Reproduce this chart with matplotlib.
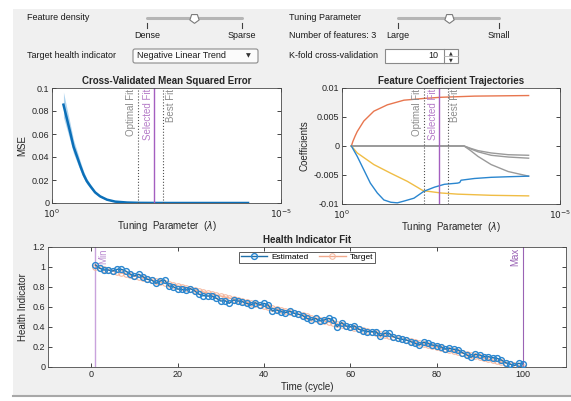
import numpy as np
import matplotlib
matplotlib.use('Agg')
import matplotlib.pyplot as plt
from matplotlib.patches import Rectangle, FancyBboxPatch

plt.rcParams['font.family'] = ['Liberation Sans', 'DejaVu Sans']

# ---- data ----
# cross-validated MSE vs tuning parameter (x given as -log10(lambda))
mse_loglam = [0.25, 0.33, 0.40, 0.47, 0.55, 0.62, 0.69, 0.76, 0.84, 0.94,
              1.05, 1.20, 1.38, 1.64, 1.93, 2.5, 3.0, 3.5, 4.0, 4.28]
mse = [0.0855, 0.0725, 0.061, 0.049, 0.040, 0.032, 0.0246, 0.019, 0.0145, 0.0093,
       0.0058, 0.0029, 0.0012, 0.0004, 0.0001, 0, 0, 0, 0, 0]
mse_err = [0.011, 0.009, 0.0075, 0.006, 0.005, 0.004, 0.003, 0.0024, 0.0018, 0.0012,
           0.0008, 0.0004, 0.0002, 0.0001, 0, 0, 0, 0, 0, 0]

# coefficient trajectories
orange_loglam = [0.215, 0.25, 0.30, 0.35, 0.5, 0.73, 1.04, 1.42, 1.88, 2.27, 3.04, 4.28]
orange_coef = [0, 0.0008, 0.0017, 0.0025, 0.0043, 0.006, 0.0071, 0.0079, 0.0082, 0.0084, 0.0086, 0.0087]
yellow_loglam = [0.215, 0.35, 0.73, 1.12, 1.5, 1.86, 2.27, 2.65, 3.42, 4.28]
yellow_coef = [0, -0.0012, -0.0032, -0.0047, -0.0061, -0.0077, -0.0081, -0.0083, -0.0085, -0.0086]
blue_loglam = [0.215, 0.35, 0.5, 0.65, 0.81, 0.96, 1.12, 1.27, 1.42, 1.65, 1.88, 2.12,
               2.35, 2.65, 2.70, 2.73, 3.04, 3.42, 3.81, 4.28]
blue_coef = [0, -0.0018, -0.0041, -0.0064, -0.0081, -0.0093, -0.0097, -0.0098, -0.0095, -0.009,
             -0.0078, -0.0071, -0.0066, -0.0064, -0.0063, -0.0059, -0.0056, -0.0054, -0.0053, -0.0052]
gray_loglam = [0.215, 2.8, 2.95, 3.12, 3.42, 3.81, 4.28]
gray_coefs = [
    [0, 0, -0.0004, -0.0008, -0.0012, -0.0015, -0.0016],
    [0, 0, -0.0005, -0.0010, -0.0016, -0.0019, -0.0021],
    [0, 0, -0.0008, -0.0018, -0.0032, -0.0044, -0.0052],
]
fit_names = ['Optimal Fit', 'Selected Fit', 'Best Fit']
fit_loglam = [1.87, 2.23, 2.43]

# health indicator fit
cycles = list(range(1, 101))
estimated = [1.02, 0.987, 0.97, 0.97, 0.96, 0.977, 0.977, 0.96, 0.93, 0.91,
             0.927, 0.903, 0.877, 0.87, 0.837, 0.86, 0.87, 0.81, 0.803, 0.78,
             0.777, 0.77, 0.783, 0.76, 0.727, 0.713, 0.71, 0.71, 0.687, 0.66,
             0.663, 0.637, 0.67, 0.66, 0.653, 0.637, 0.62, 0.643, 0.62, 0.637,
             0.62, 0.56, 0.57, 0.553, 0.543, 0.56, 0.537, 0.527, 0.513, 0.487,
             0.47, 0.487, 0.46, 0.47, 0.487, 0.47, 0.403, 0.443, 0.41, 0.403,
             0.41, 0.377, 0.363, 0.353, 0.353, 0.353, 0.31, 0.337, 0.337, 0.303,
             0.287, 0.277, 0.27, 0.253, 0.237, 0.22, 0.247, 0.237, 0.22, 0.213,
             0.203, 0.18, 0.187, 0.177, 0.17, 0.143, 0.12, 0.097, 0.127, 0.12,
             0.103, 0.103, 0.093, 0.087, 0.07, 0.043, 0.03, 0.013, 0.037, 0.03]
target = [1.00, 0.99, 0.98, 0.97, 0.96, 0.95, 0.94, 0.93, 0.92, 0.91,
          0.90, 0.89, 0.88, 0.87, 0.86, 0.85, 0.84, 0.83, 0.82, 0.81,
          0.80, 0.79, 0.78, 0.77, 0.76, 0.75, 0.74, 0.73, 0.72, 0.71,
          0.70, 0.69, 0.68, 0.67, 0.66, 0.65, 0.64, 0.63, 0.62, 0.61,
          0.60, 0.59, 0.58, 0.57, 0.56, 0.55, 0.54, 0.53, 0.52, 0.51,
          0.49, 0.48, 0.47, 0.46, 0.45, 0.44, 0.43, 0.42, 0.41, 0.40,
          0.39, 0.38, 0.37, 0.36, 0.35, 0.34, 0.33, 0.32, 0.31, 0.30,
          0.29, 0.28, 0.27, 0.26, 0.25, 0.24, 0.23, 0.22, 0.21, 0.20,
          0.19, 0.18, 0.17, 0.16, 0.15, 0.14, 0.13, 0.12, 0.11, 0.10,
          0.09, 0.08, 0.07, 0.06, 0.05, 0.04, 0.03, 0.02, 0.01, 0.00]
min_cycle, max_cycle = 1, 100

BLUE = '#2a86cf'
ORANGE = '#e8764f'
YELLOW = '#f0bd45'
GRAY = '#9a9a9a'
PURPLE = '#a45fc0'
TXT = '#262626'

W, H = 571, 401
fig = plt.figure(figsize=(W / 100, H / 100), dpi=100)
fig.patch.set_facecolor('white')


def box(l, t, r, b):
    return [l / W, 1 - b / H, (r - l) / W, (b - t) / H]


# ---- app background and controls ----
bg = fig.add_axes([0, 0, 1, 1])
bg.set_xlim(0, W)
bg.set_ylim(H, 0)
bg.axis('off')
bg.add_patch(Rectangle((13, 9), W - 13, 386, facecolor='#f0f0f0', edgecolor='none'))
bg.plot([13, W], [396, 396], color='#a8a8a8', lw=1.5)

ui = dict(fontsize=6.5, color='#1a1a1a', va='center')
bg.text(27, 18, 'Feature density', **ui)
bg.text(27, 56, 'Target health indicator', **ui)
bg.text(289, 18, 'Tuning Parameter', **ui)
bg.text(289, 36, 'Number of features: 3', **ui)
bg.text(289, 56, 'K-fold cross-validation', **ui)

for x0, x1, xt, lo, hi in [(147, 242, 194, 'Dense', 'Sparse'), (398, 499, 449, 'Large', 'Small')]:
    bg.plot([x0, x1], [18, 18], color='#b5b5b5', lw=2.2, solid_capstyle='round')
    bg.plot([x0, x0], [23, 28], color='#404040', lw=0.8)
    bg.plot([x1, x1], [23, 28], color='#404040', lw=0.8)
    bg.plot(xt, 18, marker=(5, 0, 180), ms=7, mfc='white', mec='#7a7a7a', mew=0.8)
    bg.text(x0, 35, lo, ha='center', **ui)
    bg.text(x1, 35, hi, ha='center', **ui)

bg.add_patch(FancyBboxPatch((133, 49), 125, 14, boxstyle='round,pad=0,rounding_size=2',
                            facecolor='#fbfbfb', edgecolor='#8a8a8a', lw=0.8))
bg.text(137, 56, 'Negative Linear Trend', **ui)
bg.text(248, 56, '\u25bc', fontsize=4.5, ha='center', va='center', color='#333333',
        family='DejaVu Sans')

bg.add_patch(Rectangle((385, 49), 73, 14, facecolor='white', edgecolor='#8a8a8a', lw=0.8))
bg.plot([444, 444], [49, 63], color='#8a8a8a', lw=0.8)
bg.plot([444, 458], [56, 56], color='#b0b0b0', lw=0.6)
bg.text(438, 56, '10', ha='right', **ui)
bg.text(451, 52.5, '\u25b2', fontsize=3.5, ha='center', va='center', color='#333333', family='DejaVu Sans')
bg.text(451, 59.5, '\u25bc', fontsize=3.5, ha='center', va='center', color='#333333', family='DejaVu Sans')


def style(ax):
    ax.set_facecolor('white')
    ax.tick_params(direction='in', labelsize=6.5, colors=TXT, length=3, width=0.6,
                   top=True, right=True, pad=2)
    for s in ax.spines.values():
        s.set_color('#4a4a4a')
        s.set_linewidth(0.6)


def log_axis(ax):
    ax.set_xscale('log')
    ax.set_xlim(1, 1e-5)
    ax.minorticks_off()
    ax.set_xticks([1, 1e-5])
    ax.set_xticklabels(['$10^{0}$', '$10^{-5}$'])
    ax.tick_params(axis='x', pad=3.5)
    ax.set_xlabel('Tuning  Parameter  ($\\lambda$)', fontsize=7, color=TXT, labelpad=-1)


def fit_lines(ax, ytop):
    for name, ll in zip(fit_names, fit_loglam):
        lam = 10.0 ** -ll
        if name == 'Selected Fit':
            ax.axvline(lam, color=PURPLE, lw=1.0)
            c = '#b57cc8'
        else:
            ax.axvline(lam, color='#505050', lw=0.8, ls=':')
            c = '#8c8c8c'
        if name == 'Best Fit':
            # label sits on the right side of its line
            ax.text(lam / 1.12, ytop, name, rotation=90, ha='left', va='top', fontsize=7, color=c)
        else:
            ax.text(lam * 1.08, ytop, name, rotation=90, ha='right', va='top', fontsize=7, color=c)


# ---- MSE ----
ax1 = fig.add_axes(box(52, 88, 281, 203))
style(ax1)
lam = 10.0 ** -np.array(mse_loglam)
m = np.array(mse)
e = np.array(mse_err)
ax1.fill_between(lam, m - e, m + e, color='#7bb8e4', alpha=0.6, lw=0)
ax1.plot(lam, m, color='#0b6fb8', lw=1.8)
ax1.set_ylim(0, 0.1)
ax1.set_yticks([0, 0.02, 0.04, 0.06, 0.08, 0.1])
ax1.set_yticklabels(['0', '0.02', '0.04', '0.06', '0.08', '0.1'])
log_axis(ax1)
ax1.set_ylabel('MSE', fontsize=7, color=TXT, labelpad=3)
ax1.set_title('Cross-Validated Mean Squared Error', fontsize=7, fontweight='bold', color=TXT, pad=3)
fit_lines(ax1, 0.099)

# ---- coefficients ----
ax2 = fig.add_axes(box(342, 88, 560, 204))
style(ax2)
for gc in gray_coefs:
    ax2.plot(10.0 ** -np.array(gray_loglam), gc, color=GRAY, lw=1.0)
ax2.plot(10.0 ** -np.array(orange_loglam), orange_coef, color=ORANGE, lw=1.0)
ax2.plot(10.0 ** -np.array(yellow_loglam), yellow_coef, color=YELLOW, lw=1.0)
ax2.plot(10.0 ** -np.array(blue_loglam), blue_coef, color=BLUE, lw=1.0)
ax2.set_ylim(-0.01, 0.01)
ax2.set_yticks([-0.01, -0.005, 0, 0.005, 0.01])
ax2.set_yticklabels(['-0.01', '-0.005', '0', '0.005', '0.01'])
log_axis(ax2)
ax2.set_ylabel('Coefficients', fontsize=7, color=TXT, labelpad=3)
ax2.set_title('Feature Coefficient Trajectories', fontsize=7, fontweight='bold', color=TXT, pad=3)
fit_lines(ax2, 0.0098)

# ---- health indicator fit ----
ax3 = fig.add_axes(box(48, 247, 566, 367))
style(ax3)
ax3.axvline(min_cycle, color='#c9a3dc', lw=1.0)
ax3.axvline(max_cycle, color='#9a63b5', lw=0.8)
ax3.text(min_cycle + 0.6, 1.19, 'Min', rotation=90, ha='left', va='top', fontsize=7, color='#b98ad0')
ax3.text(max_cycle - 0.6, 1.19, 'Max', rotation=90, ha='right', va='top', fontsize=7, color='#9a63b5')
ax3.plot(cycles, target, color='#f0a080', lw=1.0, marker='o', ms=4, mfc='none',
         mec='#f4b49a', mew=0.8, alpha=0.9, label='Target', zorder=2)
ax3.plot(cycles, estimated, color='#1f6fa8', lw=1.0, marker='o', ms=4.2, mfc='none',
         mec=BLUE, mew=1.0, label='Estimated', zorder=3)
ax3.set_xlim(-10, 110)
ax3.set_ylim(0, 1.2)
ax3.set_xticks([0, 20, 40, 60, 80, 100])
ax3.set_yticks([0, 0.2, 0.4, 0.6, 0.8, 1, 1.2])
ax3.set_yticklabels(['0', '0.2', '0.4', '0.6', '0.8', '1', '1.2'])
ax3.set_xlabel('Time (cycle)', fontsize=7, color=TXT, labelpad=2)
ax3.set_ylabel('Health Indicator', fontsize=7, color=TXT, labelpad=3)
ax3.set_title('Health Indicator Fit', fontsize=7, fontweight='bold', color=TXT, pad=3)
h, l = ax3.get_legend_handles_labels()
leg = ax3.legend(h[::-1], l[::-1], loc='upper center', bbox_to_anchor=(0.5, 0.96), ncol=2,
                 fontsize=6, frameon=True, fancybox=False, handlelength=3.2,
                 borderpad=0.2, columnspacing=1.2, handletextpad=0.5, borderaxespad=0)
leg.get_frame().set_edgecolor('#333333')
leg.get_frame().set_linewidth(0.7)

fig.savefig('out.png', dpi=100)
